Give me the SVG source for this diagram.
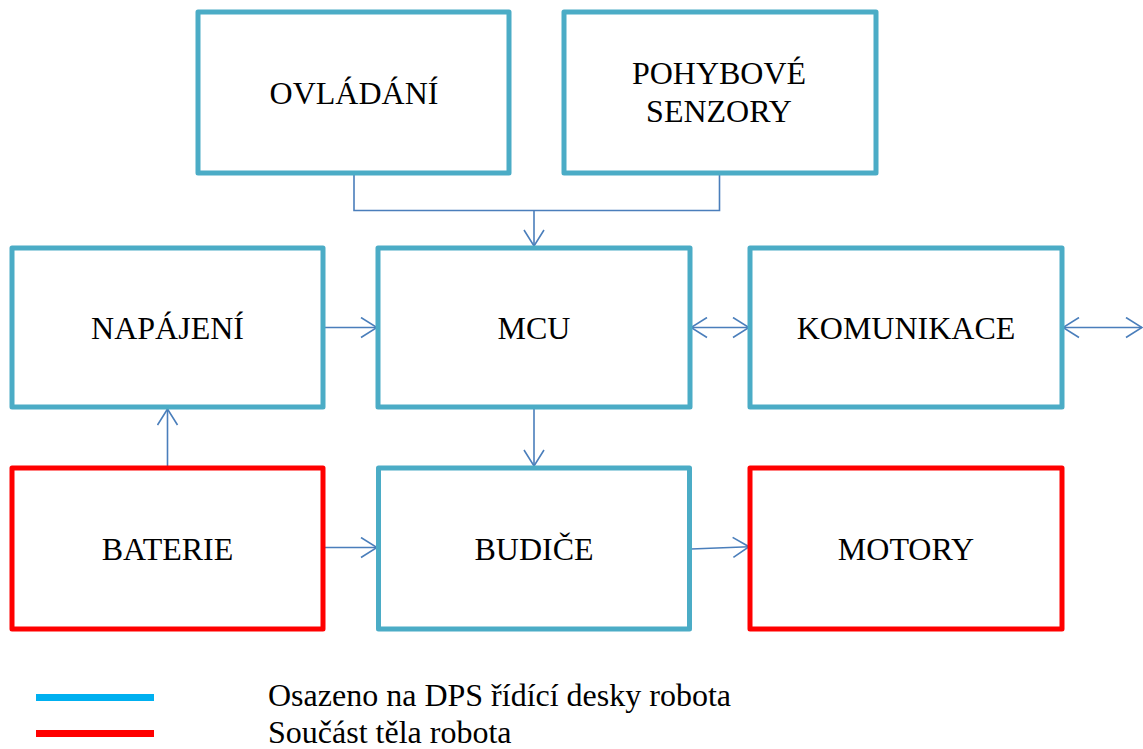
<svg xmlns="http://www.w3.org/2000/svg" width="1143" height="749" viewBox="0 0 1143 749">
<defs>
<style>
.box{fill:#fff;stroke-width:5;stroke-linejoin:round}
.blue{stroke:#4BACC6}
.red{stroke:#FF0000}
.t{text-anchor:middle}
.c{fill:none;stroke:#4A7EBB;stroke-width:1.6}
</style>
<marker id="a" markerUnits="userSpaceOnUse" markerWidth="18" markerHeight="22" viewBox="0 0 18 22" refX="17" refY="11" orient="auto-start-reverse">
<path d="M1,1 L17,11 L1,21" fill="none" stroke="#4A7EBB" stroke-width="1.6"/>
</marker>
</defs>
<rect width="1143" height="749" fill="#fff"/>
<g id="connectors">
<path class="c" d="M354,173 V210.5 H719.5 V173"/>
<path class="c" d="M534,210.5 V246" marker-end="url(#a)"/>
<path class="c" d="M324,327.5 H377" marker-end="url(#a)"/>
<path class="c" d="M691,327.5 H749" marker-start="url(#a)" marker-end="url(#a)"/>
<path class="c" d="M1063,327.5 H1142" marker-start="url(#a)" marker-end="url(#a)"/>
<path class="c" d="M167.5,467 V409" marker-end="url(#a)"/>
<path class="c" d="M534,408 V466" marker-end="url(#a)"/>
<path class="c" d="M324,547.5 H377" marker-end="url(#a)"/>
<path class="c" d="M691,549 L749,546.7" marker-end="url(#a)"/>
</g>
<g font-family="'Liberation Serif', 'Times New Roman', serif" font-size="32" fill="#000">
<g id="ovladani"><rect class="box blue" x="198" y="12" width="311" height="161"/><text class="t" x="354" y="104">OVLÁDÁNÍ</text></g>
<g id="pohybove"><rect class="box blue" x="564" y="12" width="312" height="161"/><text class="t" x="719" y="84">POHYBOVÉ</text><text class="t" x="719" y="122">SENZORY</text></g>
<g id="napajeni"><rect class="box blue" x="12" y="248" width="311" height="159"/><text class="t" x="167.5" y="339">NAPÁJENÍ</text></g>
<g id="mcu"><rect class="box blue" x="378" y="248" width="312" height="159"/><text class="t" x="534" y="339">MCU</text></g>
<g id="komunikace"><rect class="box blue" x="750" y="248" width="312" height="159"/><text class="t" x="906" y="339">KOMUNIKACE</text></g>
<g id="baterie"><rect class="box red" x="12" y="468" width="311" height="161"/><text class="t" x="167.5" y="560">BATERIE</text></g>
<g id="budice"><rect class="box blue" x="378.5" y="468" width="311" height="161"/><text class="t" x="534" y="560">BUDIČE</text></g>
<g id="motory"><rect class="box red" x="750" y="468" width="312" height="161"/><text class="t" x="906" y="560">MOTORY</text></g>
<g id="legend">
<line x1="36" y1="697.5" x2="154" y2="697.5" stroke="#00B0F0" stroke-width="7"/>
<line x1="36" y1="733.5" x2="154" y2="733.5" stroke="#FF0000" stroke-width="7"/>
<text x="268" y="706">Osazeno na DPS řídící desky robota</text>
<text x="268" y="743">Součást těla robota</text>
</g>
</g>
</svg>
